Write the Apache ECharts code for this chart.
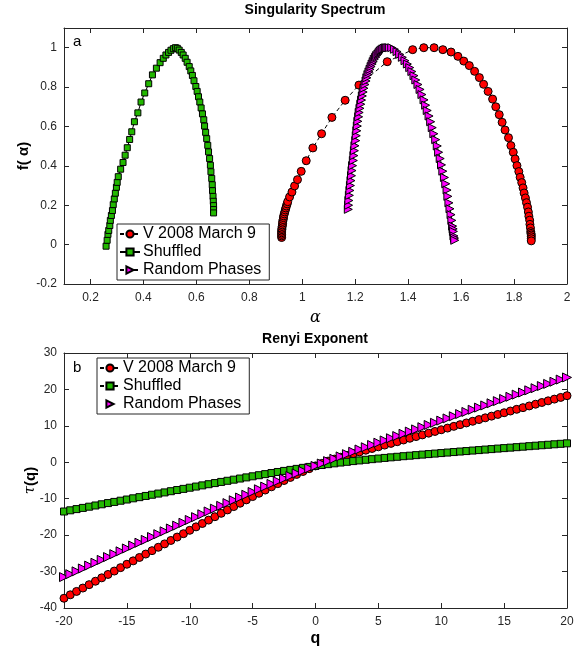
<!DOCTYPE html>
<html>
<head>
<meta charset="utf-8">
<script src="https://cdn.jsdelivr.net/npm/echarts@6.0.0/dist/echarts.min.js"></script>
<style>
  html, body { margin: 0; padding: 0; background: #fff; }
  #top, #bottom { width: 577px; height: 325px; }
</style>
</head>
<body>
<div id="top"></div>
<div id="bottom"></div>
<script>
// ---- panel a: singularity spectrum, points along each curve (alpha, f)
var redAlpha = [0.922, 0.922, 0.922, 0.922, 0.922, 0.923, 0.923, 0.924, 0.925, 0.926, 0.926, 0.928, 0.929, 0.930, 0.932, 0.934, 0.936, 0.938, 0.940, 0.943, 0.945, 0.952, 0.961, 0.971, 0.982, 0.996, 1.015, 1.040, 1.073, 1.112, 1.162, 1.214, 1.321, 1.417, 1.459, 1.498, 1.531, 1.562, 1.588, 1.610, 1.631, 1.651, 1.669, 1.685, 1.702, 1.719, 1.731, 1.744, 1.755, 1.766, 1.779, 1.788, 1.797, 1.804, 1.811, 1.818, 1.823, 1.829, 1.834, 1.838, 1.843, 1.847, 1.851, 1.854, 1.856, 1.859, 1.860, 1.862, 1.863, 1.864, 1.865, 1.865, 1.865, 1.865];
var redF = [0.036, 0.044, 0.052, 0.060, 0.068, 0.076, 0.083, 0.092, 0.100, 0.109, 0.118, 0.127, 0.137, 0.146, 0.156, 0.166, 0.176, 0.186, 0.196, 0.207, 0.218, 0.242, 0.267, 0.298, 0.330, 0.372, 0.426, 0.491, 0.563, 0.646, 0.733, 0.810, 0.929, 0.990, 1.000, 1.000, 0.990, 0.978, 0.956, 0.932, 0.909, 0.880, 0.848, 0.814, 0.778, 0.739, 0.700, 0.660, 0.621, 0.582, 0.543, 0.503, 0.469, 0.435, 0.401, 0.371, 0.342, 0.315, 0.288, 0.262, 0.237, 0.213, 0.190, 0.166, 0.144, 0.124, 0.103, 0.085, 0.066, 0.057, 0.049, 0.040, 0.030, 0.019];

var shufAlpha = [0.259, 0.263, 0.266, 0.269, 0.273, 0.275, 0.279, 0.283, 0.286, 0.290, 0.294, 0.298, 0.301, 0.305, 0.314, 0.323, 0.331, 0.339, 0.348, 0.356, 0.366, 0.379, 0.391, 0.405, 0.420, 0.434, 0.449, 0.463, 0.475, 0.485, 0.495, 0.504, 0.513, 0.521, 0.528, 0.535, 0.543, 0.550, 0.558, 0.565, 0.573, 0.579, 0.585, 0.591, 0.598, 0.603, 0.608, 0.613, 0.618, 0.623, 0.628, 0.631, 0.635, 0.639, 0.643, 0.646, 0.650, 0.653, 0.655, 0.658, 0.660, 0.661, 0.663, 0.664, 0.665, 0.665, 0.665];
var shufF = [-0.008, 0.022, 0.052, 0.072, 0.097, 0.123, 0.148, 0.173, 0.203, 0.232, 0.261, 0.291, 0.316, 0.345, 0.383, 0.417, 0.454, 0.492, 0.534, 0.573, 0.624, 0.669, 0.724, 0.770, 0.817, 0.862, 0.896, 0.924, 0.946, 0.963, 0.976, 0.987, 0.995, 1.000, 0.997, 0.988, 0.976, 0.963, 0.946, 0.926, 0.904, 0.882, 0.859, 0.832, 0.803, 0.778, 0.751, 0.724, 0.694, 0.664, 0.634, 0.602, 0.570, 0.538, 0.504, 0.471, 0.437, 0.403, 0.370, 0.336, 0.304, 0.274, 0.245, 0.220, 0.198, 0.178, 0.161];

var randAlpha = [1.174, 1.175, 1.176, 1.178, 1.180, 1.182, 1.184, 1.186, 1.188, 1.190, 1.193, 1.195, 1.197, 1.199, 1.202, 1.204, 1.206, 1.208, 1.210, 1.213, 1.215, 1.218, 1.221, 1.224, 1.227, 1.230, 1.233, 1.237, 1.241, 1.244, 1.248, 1.252, 1.256, 1.260, 1.264, 1.268, 1.272, 1.277, 1.281, 1.286, 1.290, 1.294, 1.298, 1.304, 1.309, 1.314, 1.319, 1.324, 1.329, 1.338, 1.348, 1.358, 1.368, 1.378, 1.388, 1.397, 1.406, 1.414, 1.422, 1.429, 1.437, 1.445, 1.452, 1.460, 1.466, 1.472, 1.479, 1.485, 1.491, 1.497, 1.504, 1.510, 1.515, 1.521, 1.526, 1.531, 1.537, 1.542, 1.547, 1.550, 1.554, 1.558, 1.562, 1.565, 1.568, 1.570, 1.571, 1.573, 1.575, 1.576];
var randF = [0.179, 0.200, 0.224, 0.250, 0.275, 0.300, 0.325, 0.350, 0.376, 0.401, 0.427, 0.452, 0.477, 0.502, 0.528, 0.553, 0.578, 0.602, 0.626, 0.649, 0.671, 0.692, 0.713, 0.734, 0.755, 0.775, 0.794, 0.813, 0.831, 0.847, 0.863, 0.877, 0.890, 0.904, 0.917, 0.929, 0.941, 0.951, 0.960, 0.968, 0.975, 0.982, 0.988, 0.993, 0.997, 0.999, 1.000, 1.000, 1.000, 1.000, 0.992, 0.980, 0.966, 0.951, 0.934, 0.917, 0.899, 0.879, 0.858, 0.836, 0.813, 0.788, 0.762, 0.735, 0.708, 0.681, 0.653, 0.624, 0.594, 0.563, 0.533, 0.501, 0.469, 0.437, 0.405, 0.373, 0.341, 0.309, 0.277, 0.245, 0.212, 0.182, 0.152, 0.123, 0.094, 0.080, 0.067, 0.044, 0.033, 0.022];

var alphaTicks = [0.2, 0.4, 0.6, 0.8, 1, 1.2, 1.4, 1.6, 1.8, 2];
var fTicks = [-0.2, 0, 0.2, 0.4, 0.6, 0.8, 1];

// ---- panel b: Renyi exponent tau(q)
var qValues = [-20, -19.5, -19, -18.5, -18, -17.5, -17, -16.5, -16, -15.5, -15, -14.5, -14, -13.5, -13, -12.5, -12, -11.5, -11, -10.5, -10, -9.5, -9, -8.5, -8, -7.5, -7, -6.5, -6, -5.5, -5, -4.5, -4, -3.5, -3, -2.5, -2, -1.5, -1, -0.5, 0, 0.5, 1, 1.5, 2, 2.5, 3, 3.5, 4, 4.5, 5, 5.5, 6, 6.5, 7, 7.5, 8, 8.5, 9, 9.5, 10, 10.5, 11, 11.5, 12, 12.5, 13, 13.5, 14, 14.5, 15, 15.5, 16, 16.5, 17, 17.5, 18, 18.5, 19, 19.5, 20];
var tauRed = [-37.32, -36.38, -35.45, -34.52, -33.59, -32.65, -31.72, -30.79, -29.86, -28.92, -27.99, -27.06, -26.13, -25.19, -24.26, -23.33, -22.40, -21.46, -20.53, -19.60, -18.67, -17.73, -16.80, -15.87, -14.94, -14.01, -13.08, -12.16, -11.24, -10.32, -9.41, -8.51, -7.62, -6.73, -5.86, -5.00, -4.16, -3.34, -2.53, -1.75, -1.00, -0.30, 0.32, 0.87, 1.39, 1.89, 2.38, 2.85, 3.32, 3.79, 4.25, 4.72, 5.19, 5.65, 6.12, 6.59, 7.06, 7.52, 7.99, 8.46, 8.93, 9.39, 9.86, 10.33, 10.80, 11.26, 11.73, 12.20, 12.67, 13.13, 13.60, 14.07, 14.54, 15.00, 15.47, 15.94, 16.41, 16.87, 17.34, 17.81, 18.28];
var tauShuf = [-13.51, -13.18, -12.85, -12.52, -12.19, -11.86, -11.53, -11.20, -10.88, -10.55, -10.22, -9.89, -9.57, -9.24, -8.91, -8.59, -8.27, -7.94, -7.62, -7.30, -6.98, -6.66, -6.34, -6.02, -5.71, -5.39, -5.08, -4.77, -4.46, -4.15, -3.85, -3.55, -3.25, -2.95, -2.66, -2.37, -2.09, -1.81, -1.53, -1.27, -1.00, -0.75, -0.51, -0.29, -0.07, 0.13, 0.33, 0.51, 0.69, 0.86, 1.03, 1.20, 1.36, 1.51, 1.67, 1.81, 1.96, 2.11, 2.25, 2.39, 2.53, 2.67, 2.81, 2.95, 3.08, 3.22, 3.35, 3.49, 3.62, 3.76, 3.89, 4.02, 4.15, 4.28, 4.42, 4.55, 4.68, 4.81, 4.94, 5.07, 5.20];
var tauRand = [-31.51, -30.72, -29.94, -29.15, -28.36, -27.58, -26.79, -26.01, -25.22, -24.44, -23.65, -22.86, -22.08, -21.30, -20.51, -19.73, -18.95, -18.17, -17.39, -16.61, -15.83, -15.05, -14.28, -13.50, -12.73, -11.96, -11.20, -10.43, -9.67, -8.92, -8.16, -7.41, -6.67, -5.94, -5.20, -4.48, -3.76, -3.06, -2.36, -1.67, -1.00, -0.34, 0.32, 0.96, 1.61, 2.24, 2.88, 3.51, 4.13, 4.75, 5.37, 5.99, 6.60, 7.21, 7.82, 8.43, 9.03, 9.63, 10.24, 10.84, 11.44, 12.04, 12.63, 13.23, 13.82, 14.42, 15.01, 15.60, 16.20, 16.79, 17.38, 17.97, 18.57, 19.16, 19.75, 20.34, 20.93, 21.52, 22.11, 22.70, 23.29];

var FONT = 'Liberation Sans, Arial, Helvetica, sans-serif';
var AX = '#262626';
var TRI = 'path://M0,0L10,5L0,10Z';

function zip(a, b) {
  var out = [];
  for (var i = 0; i < a.length; i++) out.push([a[i], b[i]]);
  return out;
}

// one side of the boxed axes; the twin on the other side only carries ticks
function axis(pos, opt, showLabel) {
  var ax = {
    type: 'value',
    position: pos,
    min: opt.min,
    max: opt.max,
    scale: true,
    axisLine: { show: true, onZero: false, lineStyle: { color: AX, width: 1 } },
    axisTick: { show: true, inside: true, length: 5, lineStyle: { color: AX } },
    axisLabel: { show: showLabel, color: AX, fontSize: 12, fontFamily: FONT, margin: pos === 'bottom' ? 8 : 7 },
    splitLine: { show: false }
  };
  if (opt.interval) ax.interval = opt.interval;
  if (opt.ticks) {
    ax.axisTick.customValues = opt.ticks;
    ax.axisLabel.customValues = opt.ticks;
  }
  if (showLabel && opt.name) {
    ax.name = opt.name;
    ax.nameLocation = 'middle';
    ax.nameGap = opt.nameGap;
    ax.nameMoveOverlap = false;
    ax.nameTextStyle = opt.nameStyle;
  }
  return ax;
}

function lineSeries(name, data, symbol, size, fill, dash, showLine) {
  return {
    name: name,
    type: 'line',
    data: data,
    symbol: symbol,
    symbolSize: size,
    symbolKeepAspect: true,
    showAllSymbol: true,
    itemStyle: { color: fill, borderColor: '#000', borderWidth: 1 },
    lineStyle: { color: '#000', width: showLine ? 1 : 0, opacity: showLine ? 1 : 0, type: dash ? [4, 3] : 'solid' },
    emphasis: { disabled: true },
    animation: false
  };
}

function legend(left, top) {
  return {
    left: left,
    top: top,
    orient: 'vertical',
    selectedMode: false,
    backgroundColor: '#fff',
    borderColor: AX,
    borderWidth: 1,
    borderRadius: 0,
    padding: [2, 8, 2, 2],
    itemGap: 2,
    itemWidth: 20,
    itemHeight: 9,
    textStyle: { color: '#000', fontSize: 16, fontFamily: FONT, padding: [0, 0, 0, -2] }
  };
}

// ---- panel a
var topChart = echarts.init(document.getElementById('top'));
topChart.setOption({
  backgroundColor: '#fff',
  textStyle: { fontFamily: FONT },
  grid: { left: 64, right: 10, top: 28, bottom: 41, containLabel: false, outerBoundsMode: 'none' },
  graphic: [
    { type: 'text', x: 315, y: 3, style: { text: 'Singularity Spectrum', fontSize: 14, fontWeight: 'bold', fontFamily: FONT, fill: '#000', align: 'center' } },
    { type: 'text', x: 73, y: 34, style: { text: 'a', fontSize: 15, fontFamily: FONT, fill: '#000' } }
  ],
  xAxis: [
    axis('bottom', { min: 0.1, max: 2, ticks: alphaTicks, name: 'α', nameGap: 26,
      nameStyle: { fontSize: 16, fontFamily: 'DejaVu Serif, serif', fontStyle: 'italic', color: '#000' } }, true),
    axis('top', { min: 0.1, max: 2, ticks: alphaTicks }, false)
  ],
  yAxis: [
    axis('left', { min: -0.2, max: 1.1, ticks: fTicks, name: 'f( α)', nameGap: 33,
      nameStyle: { fontSize: 15, fontWeight: 'bold', fontFamily: FONT, color: '#000' } }, true),
    axis('right', { min: -0.2, max: 1.1, ticks: fTicks }, false)
  ],
  legend: legend(117, 224),
  series: [
    lineSeries('V 2008 March 9', zip(redAlpha, redF), 'circle', 8, '#ff0000', true, true),
    lineSeries('Shuffled', zip(shufAlpha, shufF), 'rect', 6, '#22b800', false, true),
    lineSeries('Random Phases', zip(randAlpha, randF), TRI, 8, '#ff00ff', true, true)
  ]
});

// ---- panel b
var bottomChart = echarts.init(document.getElementById('bottom'));
bottomChart.setOption({
  backgroundColor: '#fff',
  textStyle: { fontFamily: FONT },
  grid: { left: 64, right: 10, top: 28, bottom: 42, containLabel: false, outerBoundsMode: 'none' },
  graphic: [
    { type: 'text', x: 315, y: 7, style: { text: 'Renyi Exponent', fontSize: 14, fontWeight: 'bold', fontFamily: FONT, fill: '#000', align: 'center' } },
    { type: 'text', x: 73, y: 35, style: { text: 'b', fontSize: 15, fontFamily: FONT, fill: '#000' } }
  ],
  xAxis: [
    axis('bottom', { min: -20, max: 20, interval: 5, name: 'q', nameGap: 23,
      nameStyle: { fontSize: 16, fontWeight: 'bold', fontFamily: FONT, color: '#000' } }, true),
    axis('top', { min: -20, max: 20, interval: 5 }, false)
  ],
  yAxis: [
    axis('left', { min: -40, max: 30, interval: 10, name: '{t|τ}{b|(q)}', nameGap: 26,
      nameStyle: { color: '#000', rich: {
        t: { fontSize: 15, fontFamily: 'DejaVu Serif, serif', fontStyle: 'italic', color: '#000' },
        b: { fontSize: 15, fontWeight: 'bold', fontFamily: FONT, color: '#000' } } } }, true),
    axis('right', { min: -40, max: 30, interval: 10 }, false)
  ],
  legend: legend(97, 33),
  series: [
    lineSeries('V 2008 March 9', zip(qValues, tauRed), 'circle', 8, '#ff0000', true, true),
    lineSeries('Shuffled', zip(qValues, tauShuf), 'rect', 7, '#22b800', true, true),
    lineSeries('Random Phases', zip(qValues, tauRand), TRI, 9, '#ff00ff', false, false)
  ]
});
</script>
</body>
</html>
